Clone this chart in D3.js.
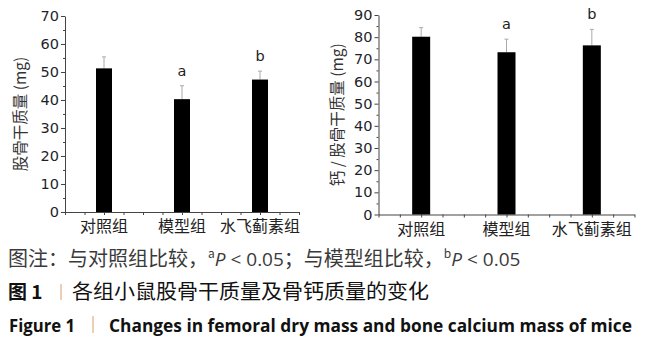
<!DOCTYPE html>
<html>
<head>
<meta charset="utf-8">
<script src="https://cdn.jsdelivr.net/npm/d3@7"></script>
<style>
  body { margin: 0; background: #fff; }
  svg { display: block; }
</style>
</head>
<body>
<div id="container"></div>
<script>
const groups = ['对照组', '模型组', '水飞蓟素组'];
const dryMass = [51.3, 40.3, 47.3];
const dryMassSd = [4.1, 4.8, 3.0];
const calcium = [80.2, 73.2, 76.3];
const calciumSd = [4.1, 5.9, 7.2];
const sigLabels = ['', 'a', 'b'];
const dryTicks = [0, 10, 20, 30, 40, 50, 60, 70];
const calciumTicks = [0, 10, 20, 30, 40, 50, 60, 70, 80, 90];

const w = 647;
const h = 343;
const cjk = '"Noto Sans CJK SC", "Noto Sans", sans-serif';
const tickFont = '"DejaVu Sans", sans-serif';
const latin = '"Open Sans", sans-serif';

const svg = d3.select('#container').append('svg')
    .attr('width', w)
    .attr('height', h);

const drawPanel = (opt) => {
    const { values, sd, ticks, left, right, top, bottom, barWidth, yLabel, yLabelX, catY } = opt;
    const maxV = ticks[ticks.length - 1];

    const xScale = d3.scaleBand()
        .domain(groups)
        .range([left, right]);

    const yScale = d3.scaleLinear()
        .domain([0, maxV])
        .range([bottom, top]);

    const g = svg.append('g');

    // minor y ticks
    g.append('g')
        .attr('transform', 'translate(' + left + ',0)')
        .call(d3.axisLeft(yScale).tickValues(d3.range(5, maxV, 10)).tickSize(2).tickFormat(''))
        .call(a => a.select('.domain').remove())
        .call(a => a.selectAll('line').attr('stroke', '#444'));

    const yAxis = g.append('g')
        .attr('transform', 'translate(' + left + ',0)')
        .call(d3.axisLeft(yScale).tickValues(ticks).tickSize(4).tickSizeOuter(0).tickPadding(2));
    yAxis.select('.domain').attr('stroke', '#444');
    yAxis.selectAll('line').attr('stroke', '#444');
    yAxis.selectAll('text')
        .attr('font-family', tickFont)
        .attr('font-size', 14.5)
        .attr('fill', '#1f1f2a');

    // x axis with quarter-band ticks
    const xLin = d3.scaleLinear().domain([0, groups.length]).range([left, right]);
    const xAxis = g.append('g')
        .attr('transform', 'translate(0,' + bottom + ')')
        .call(d3.axisBottom(xLin).tickValues(d3.range(0, groups.length + 0.01, 0.25)).tickSize(3).tickSizeOuter(0).tickFormat(''));
    xAxis.select('.domain').attr('stroke', '#444');
    xAxis.selectAll('line').attr('stroke', '#444');

    g.selectAll('.cat')
        .data(groups)
        .enter()
        .append('text')
        .attr('x', d => xScale(d) + xScale.bandwidth() / 2)
        .attr('y', catY)
        .attr('text-anchor', 'middle')
        .attr('font-family', cjk)
        .attr('font-size', 16)
        .attr('fill', '#222')
        .text(d => d);

    // error bars (upper only)
    g.selectAll('.err')
        .data(values)
        .enter()
        .append('line')
        .attr('x1', (d, i) => xScale(groups[i]) + xScale.bandwidth() / 2)
        .attr('x2', (d, i) => xScale(groups[i]) + xScale.bandwidth() / 2)
        .attr('y1', d => yScale(d))
        .attr('y2', (d, i) => yScale(d + sd[i]))
        .attr('stroke', '#aaa')
        .attr('stroke-width', 1);

    g.selectAll('.cap')
        .data(values)
        .enter()
        .append('line')
        .attr('x1', (d, i) => xScale(groups[i]) + xScale.bandwidth() / 2 - 2)
        .attr('x2', (d, i) => xScale(groups[i]) + xScale.bandwidth() / 2 + 2)
        .attr('y1', (d, i) => yScale(d + sd[i]))
        .attr('y2', (d, i) => yScale(d + sd[i]))
        .attr('stroke', '#aaa')
        .attr('stroke-width', 1);

    g.selectAll('.bar')
        .data(values)
        .enter()
        .append('rect')
        .attr('x', (d, i) => xScale(groups[i]) + xScale.bandwidth() / 2 - barWidth / 2)
        .attr('y', d => yScale(d))
        .attr('width', barWidth)
        .attr('height', d => bottom - yScale(d))
        .attr('fill', '#000');

    g.selectAll('.sig')
        .data(values)
        .enter()
        .append('text')
        .attr('x', (d, i) => xScale(groups[i]) + xScale.bandwidth() / 2)
        .attr('y', (d, i) => yScale(d + sd[i]) - 10)
        .attr('text-anchor', 'middle')
        .attr('font-family', tickFont)
        .attr('font-size', 14.5)
        .attr('fill', '#222')
        .text((d, i) => sigLabels[i]);

    g.append('text')
        .attr('transform', 'translate(' + yLabelX + ',' + ((top + bottom) / 2) + ') rotate(-90)')
        .attr('text-anchor', 'middle')
        .attr('font-family', cjk)
        .attr('font-size', 15.5)
        .attr('fill', '#333')
        .text(yLabel);
};

drawPanel({
    values: dryMass, sd: dryMassSd, ticks: dryTicks,
    left: 65, right: 299, top: 16, bottom: 212,
    barWidth: 16, yLabel: '股骨干质量 (mg)', yLabelX: 26, catY: 232
});

drawPanel({
    values: calcium, sd: calciumSd, ticks: calciumTicks,
    left: 378.5, right: 634.5, top: 15, bottom: 214.5,
    barWidth: 18, yLabel: '钙 / 股骨干质量 (mg)', yLabelX: 343, catY: 235
});

// caption
const cap1 = svg.append('text')
    .attr('x', 8)
    .attr('y', 266)
    .attr('font-family', cjk)
    .attr('font-size', 20)
    .attr('fill', '#3a3a3a');
cap1.append('tspan').text('图注：与对照组比较，');
cap1.append('tspan').attr('font-size', 12).attr('dy', -8).text('a');
cap1.append('tspan').attr('dy', 8).attr('font-family', latin).attr('font-size', 19).attr('font-style', 'italic').text('P');
cap1.append('tspan').attr('font-family', latin).attr('font-size', 19).text(' < 0.05');
cap1.append('tspan').text('；与模型组比较，');
cap1.append('tspan').attr('font-size', 12).attr('dy', -8).text('b');
cap1.append('tspan').attr('dy', 8).attr('font-family', latin).attr('font-size', 19).attr('font-style', 'italic').text('P');
cap1.append('tspan').attr('font-family', latin).attr('font-size', 19).text(' < 0.05');

svg.append('text')
    .attr('x', 8).attr('y', 299)
    .attr('font-family', cjk).attr('font-size', 19).attr('font-weight', 'bold').attr('fill', '#111')
    .text('图 1');
svg.append('line')
    .attr('x1', 61).attr('x2', 61).attr('y1', 284).attr('y2', 300)
    .attr('stroke', '#d9a066').attr('stroke-width', 1);
svg.append('text')
    .attr('x', 72).attr('y', 299)
    .attr('font-family', cjk).attr('font-size', 20).attr('fill', '#111')
    .attr('textLength', 357).attr('lengthAdjust', 'spacingAndGlyphs')
    .text('各组小鼠股骨干质量及骨钙质量的变化');

svg.append('text')
    .attr('x', 9).attr('y', 332)
    .attr('font-family', latin).attr('font-size', 17).attr('font-weight', 'bold').attr('fill', '#111')
    .attr('textLength', 66).attr('lengthAdjust', 'spacingAndGlyphs')
    .text('Figure 1');
svg.append('line')
    .attr('x1', 93).attr('x2', 93).attr('y1', 316).attr('y2', 333)
    .attr('stroke', '#d9a066').attr('stroke-width', 1);
svg.append('text')
    .attr('x', 109).attr('y', 332)
    .attr('font-family', latin).attr('font-size', 17).attr('font-weight', 'bold').attr('fill', '#111')
    .attr('textLength', 523).attr('lengthAdjust', 'spacingAndGlyphs')
    .text('Changes in femoral dry mass and bone calcium mass of mice');
</script>
</body>
</html>
